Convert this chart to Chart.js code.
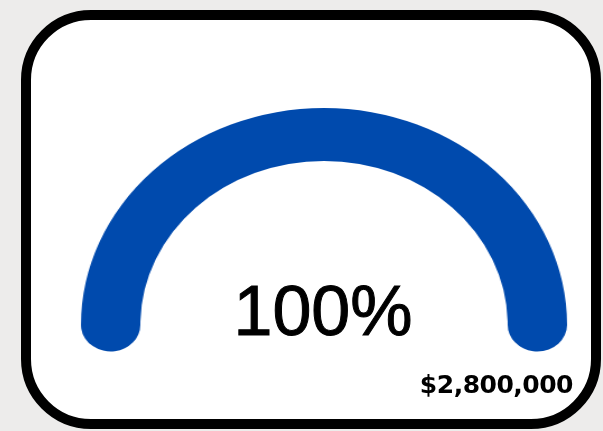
<!DOCTYPE html>
<html>
<head>
<meta charset="utf-8">
<script src="https://cdn.jsdelivr.net/npm/chart.js"></script>
<style>
  html, body {
    margin: 0;
    padding: 0;
    width: 603px;
    height: 431px;
    overflow: hidden;
    background: #edeceb;
  }
  .card {
    position: absolute;
    left: 21px;
    top: 10px;
    width: 580px;
    height: 419px;
    box-sizing: border-box;
    border: 10px solid #000;
    border-radius: 70px;
    background: #fff;
  }
  /* the gauge is a bit wider than tall, so stretch the canvas sideways */
  #gauge {
    position: absolute;
    left: 74px;
    top: 16px;
    transform: scaleX(1.12);
    transform-origin: 250px 50%;
  }
  .percent {
    position: absolute;
    left: 0;
    top: 276px;
    width: 646px;
    text-align: center;
    font-family: "Liberation Sans", Arial, sans-serif;
    font-size: 70px;
    line-height: 70px;
    -webkit-text-stroke: 1px #000;
    color: #000;
  }
  .amount {
    position: absolute;
    right: 30px;
    top: 372px;
    font-family: "DejaVu Sans", sans-serif;
    font-weight: bold;
    font-size: 25px;
    line-height: 25px;
    letter-spacing: -0.5px;
    color: #000;
  }
</style>
</head>
<body>
<div class="card"></div>
<canvas id="gauge" width="500" height="431"></canvas>
<div class="percent" id="percent"></div>
<div class="amount" id="amount"></div>

<script>
// gauge data
const gaugeLabels = ["Raised", "Remaining"];
const gaugeValues = [100, 0];
const goalAmount = [2800000];

const total = gaugeValues.reduce((a, b) => a + b, 0);
document.getElementById("percent").innerText = Math.round(gaugeValues[0] / total * 100) + "%";
document.getElementById("amount").innerText = "$" + goalAmount[0].toLocaleString("en-US");

// round caps sit past the ends of the half circle
const ringRadius = 217;
const ringWidth = 53;
const capAngle = (ringWidth / 2) / (ringRadius - ringWidth / 2) * 180 / Math.PI;

new Chart(document.getElementById("gauge"), {
    type: "doughnut",
    data: {
        labels: gaugeLabels,
        datasets: [
            {
                data: gaugeValues,
                backgroundColor: ["#004aad", "#dde3ee"],
                borderWidth: 0,
                borderRadius: ringWidth / 2,
                radius: ringRadius,
                cutout: ((ringRadius - ringWidth) / ringRadius * 100) + "%",
            },
        ],
    },
    options: {
        responsive: false,
        animation: false,
        rotation: -90 - capAngle,
        circumference: 180 + 2 * capAngle,
        layout: { padding: 0 },
        plugins: {
            legend: { display: false },
            tooltip: { enabled: false },
        },
    },
});
</script>
</body>
</html>
